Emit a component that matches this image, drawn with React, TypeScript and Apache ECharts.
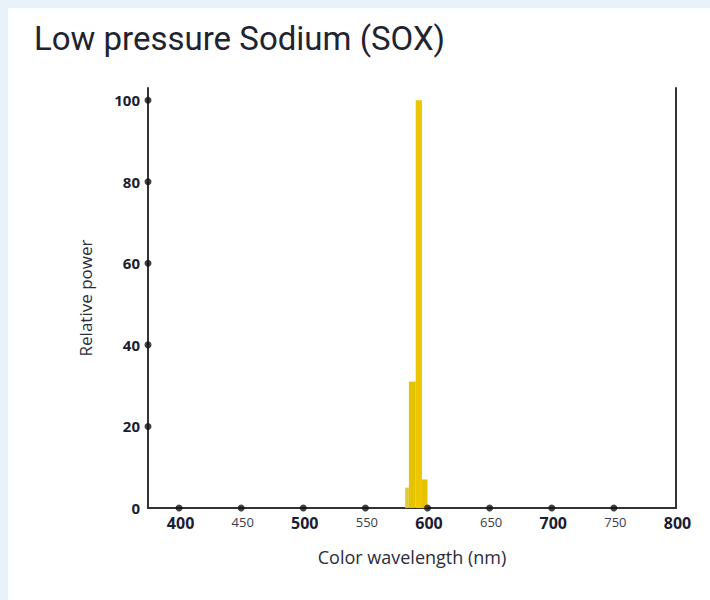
import React, { useEffect, useRef } from "react";
import * as echarts from "echarts";

// ---- data ----
const binStart = [582, 585, 590.5, 595.5];
const binEnd = [585, 590.5, 595.5, 600];
const relativePower = [5, 31, 100, 7];
const xTickDots = [400, 450, 500, 550, 600, 650, 700, 750];
const yTickDots = [20, 40, 60, 80, 100];

const X_MIN = 375;
const X_MAX = 800;
const Y_MAX = 103;

const barColors = ["#DDCB3A", "#E6C300", "#ECC600", "#E8C200"];
const FONT = "'Open Sans', sans-serif";
const TITLE_FONT = "Roboto, 'Open Sans', sans-serif";

export default function App() {
  const ref = useRef<HTMLDivElement>(null);
  useEffect(() => {
    if (!ref.current) return;
    const chart = echarts.init(ref.current, null, { renderer: "svg" });
    const barData = binStart.map((s, i) => [s, binEnd[i], relativePower[i]]);
    chart.setOption({
      animation: false,
      backgroundColor: "#E8F2FA",
      graphic: [
        { type: "rect", left: 8, top: 8, shape: { width: 702, height: 592 }, style: { fill: "#ffffff" }, z: -10 },
      ],
      title: {
        text: "Low pressure Sodium (SOX)",
        left: 29,
        top: 17,
        textStyle: { fontFamily: TITLE_FONT, fontSize: 33, fontWeight: "normal", color: "#1f2430" },
      },
      grid: { left: 148, right: 34, top: 88, bottom: 92 },
      xAxis: {
        type: "value",
        min: X_MIN,
        max: X_MAX,
        interval: 25,
        name: "Color wavelength (nm)",
        nameLocation: "middle",
        nameGap: 40,
        nameTextStyle: { fontFamily: FONT, fontSize: 18, color: "#2a2d3a" },
        axisLine: { show: true, lineStyle: { color: "#333", width: 2 } },
        axisTick: { show: false },
        splitLine: { show: false },
        axisLabel: {
          margin: 7,
          showMaxLabel: true,
          formatter: (v: number) => (v % 100 === 0 ? `{maj|${v}}` : v % 50 === 0 ? `{min|${v}}` : ""),
          rich: {
            maj: { fontFamily: FONT, fontSize: 16, fontWeight: "bold", color: "#1b1d33", padding: [0, 0, 0, 3] },
            min: { fontFamily: FONT, fontSize: 13, color: "#3a3c50", padding: [0, 0, 0, 3] },
          },
        },
      },
      yAxis: [
        {
          type: "value",
          min: 0,
          max: Y_MAX,
          interval: 20,
          name: "Relative power",
          nameLocation: "middle",
          nameGap: 54,
          nameTextStyle: { fontFamily: FONT, fontSize: 17, color: "#2a2d3a" },
          axisLine: { show: true, lineStyle: { color: "#333", width: 2 } },
          axisTick: { show: false },
          splitLine: { show: false },
          axisLabel: {
            margin: 8,
            formatter: (v: number) => (v % 20 === 0 ? String(v) : ""),
            fontFamily: FONT,
            fontSize: 15,
            fontWeight: "bold",
            color: "#1b1d33",
          },
        },
        {
          type: "value",
          position: "right",
          min: 0,
          max: Y_MAX,
          interval: 20,
          axisLine: { show: true, lineStyle: { color: "#333", width: 2 } },
          axisTick: { show: false },
          axisLabel: { show: false },
          splitLine: { show: false },
        },
      ],
      series: [
        {
          type: "custom",
          data: barData,
          encode: { x: [0, 1], y: 2 },
          renderItem: (params: any, api: any) => {
            const topLeft = api.coord([api.value(0), api.value(2)]);
            const bottomRight = api.coord([api.value(1), 0]);
            return {
              type: "rect",
              shape: {
                x: topLeft[0],
                y: topLeft[1],
                width: bottomRight[0] - topLeft[0],
                height: bottomRight[1] - topLeft[1],
              },
              style: { fill: barColors[params.dataIndex] },
            };
          },
        },
        {
          type: "scatter",
          data: xTickDots.map((v) => [v, 0]),
          symbol: "circle",
          symbolSize: 7,
          itemStyle: { color: "#111" },
          clip: false,
          z: 5,
        },
        {
          type: "scatter",
          data: yTickDots.map((v) => [X_MIN, v]),
          symbol: "circle",
          symbolSize: 7,
          itemStyle: { color: "#111" },
          clip: false,
          z: 5,
        },
      ],
    });
    return () => chart.dispose();
  }, []);
  return (
    <div
      ref={ref}
      style={{ position: "absolute", left: 0, top: 0, width: 710, height: 600 }}
    />
  );
}
